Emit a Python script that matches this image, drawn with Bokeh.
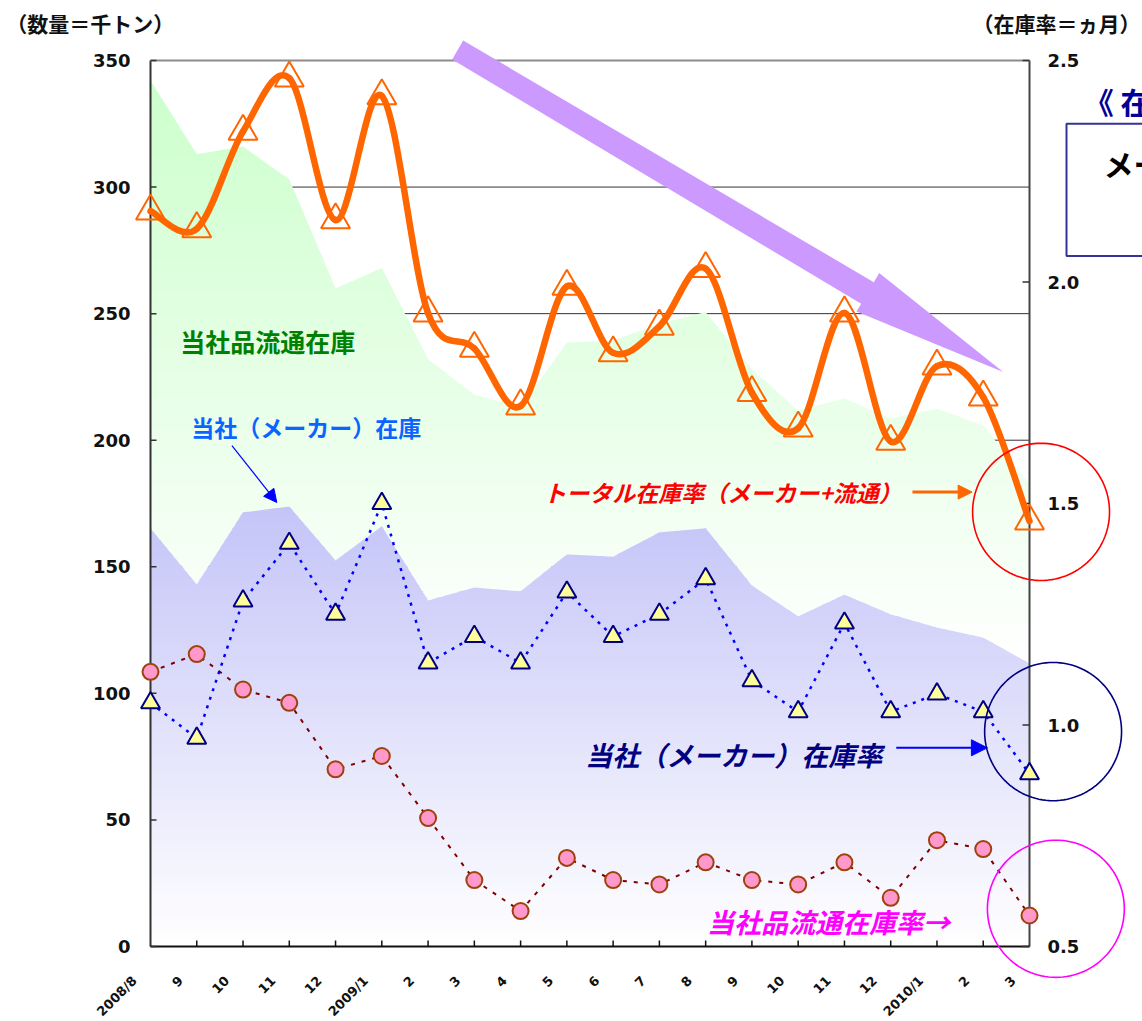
import numpy as np
from bokeh.plotting import figure
from bokeh.models import (Range1d, ColumnDataSource, LabelSet, Label, PolyAnnotation,
                          Arrow, NormalHead)
from bokeh.core.properties import value
from bokeh.embed import file_html
from bokeh.resources import INLINE

# ---- data -----------------------------------------------------------------
months = ["2008/8", "9", "10", "11", "12", "2009/1", "2", "3", "4", "5", "6",
          "7", "8", "9", "10", "11", "12", "2010/1", "2", "3"]

# inventory volume (thousand tons)
maker_stock = [165.2, 143.0, 171.5, 173.8, 152.5, 166.0, 136.7, 141.8, 140.3, 154.9,
               154.0, 163.6, 165.2, 142.6, 130.4, 139.0, 131.2, 126.0, 122.0, 111.8]
dist_stock = [176.8, 170.0, 144.5, 129.2, 107.5, 102.0, 95.3, 76.2, 72.7, 83.7,
              85.3, 82.4, 85.4, 85.4, 81.3, 77.5, 77.4, 86.5, 83.8, 71.0]

# inventory ratio (months)
total_rate = [2.16, 2.12, 2.34, 2.46, 2.14, 2.42, 1.93, 1.85, 1.72, 1.99,
              1.84, 1.90, 2.03, 1.75, 1.67, 1.93, 1.64, 1.81, 1.74, 1.46]
maker_rate = [1.05, 0.97, 1.28, 1.41, 1.25, 1.50, 1.14, 1.20, 1.14, 1.30,
              1.20, 1.25, 1.33, 1.10, 1.03, 1.23, 1.03, 1.07, 1.03, 0.89]
dist_rate = [1.12, 1.16, 1.08, 1.05, 0.90, 0.93, 0.79, 0.65, 0.58, 0.70,
             0.65, 0.64, 0.69, 0.65, 0.64, 0.69, 0.61, 0.74, 0.72, 0.57]

qty_ticks = [0, 50, 100, 150, 200, 250, 300, 350]
rate_ticks = [0.5, 1.0, 1.5, 2.0, 2.5]

JP = "Noto Sans CJK JP"
NUM = "DejaVu Sans"

idx = np.arange(len(months))
last = len(months) - 1

# ---- page geometry: the drawing area fills the whole page and the
# plotting box (first month .. last month, 0 .. 350) sits inside it
W, H = 1142, 1021
BOX_L, BOX_R, BOX_T, BOX_B = 150, 1029, 60, 946
QMAX = 350
RATE_LO, RATE_HI = 0.5, 2.5
sx = (BOX_R - BOX_L) / last
sy = (BOX_B - BOX_T) / QMAX
x_rng = Range1d(-BOX_L / sx, (W - BOX_L) / sx)
y_lo, y_hi = -(H - BOX_B) / sy, BOX_B / sy
y_rng = Range1d(y_lo, y_hi)
k = (RATE_HI - RATE_LO) / QMAX
rate_rng = Range1d(RATE_LO + y_lo * k, RATE_LO + y_hi * k)


def q_of_rate(r):
    return (r - RATE_LO) / k


p = figure(width=W, height=H, x_range=x_rng, y_range=y_rng,
           x_axis_type=None, y_axis_type=None,
           output_backend="svg", toolbar_location=None, min_border=0)
p.extra_y_ranges = {"rate": rate_rng}
p.outline_line_color = None
p.background_fill_color = "white"
p.border_fill_color = "white"
p.xgrid.visible = False
p.ygrid.visible = False

# ---- horizontal grid (sits beneath the areas) -------------------------------
grid_vals = qty_ticks[1:-1]
p.segment(x0=[0] * len(grid_vals), y0=grid_vals, x1=[last] * len(grid_vals),
          y1=grid_vals, line_color="#333333", line_width=1)

# ---- stacked areas with a vertical white fade ----------------------------
xf = np.linspace(0, last, last * 24 + 1)
maker_f = np.interp(xf, idx, maker_stock)
total_f = np.interp(xf, idx, np.add(maker_stock, dist_stock))


def fade(top_rgb, t):
    c = [int(round(255 + (ct - 255) * t)) for ct in top_rgb]
    return "#%02x%02x%02x" % tuple(c)


def banded_area(lower, upper, lo, hi, top_rgb, step=2.5):
    edges = np.arange(lo, hi + step, step)
    for b0, b1 in zip(edges[:-1], edges[1:]):
        y1 = np.clip(lower, b0, b1 + 0.4)
        y2 = np.clip(upper, b0, b1 + 0.4)
        if np.all(y2 - y1 <= 0):
            continue
        t = min(1.0, max(0.0, ((b0 + b1) / 2 - lo) / (hi - lo)))
        p.varea(x=xf, y1=y1, y2=y2, fill_color=fade(top_rgb, t))


banded_area(maker_f, total_f, min(maker_stock), float(total_f.max()), (204, 255, 204))
banded_area(np.zeros_like(xf), maker_f, 0.0, max(maker_stock), (196, 196, 248))

# ---- box lines and tick marks ---------------------------------------------
p.segment(x0=[0, last, 0], y0=[0, 0, 0], x1=[0, last, last], y1=[QMAX, QMAX, 0],
          line_color=["#333333", "#444444", "#111111"], line_width=2)
p.segment(x0=[0], y0=[QMAX], x1=[last], y1=[QMAX], line_color="#8c8c8c", line_width=2)
p.ray(x=[0] * len(qty_ticks), y=qty_ticks, length=6, length_units="screen",
      angle=0, line_color="#333333", line_width=1.5)
p.ray(x=[last] * len(rate_ticks), y=rate_ticks, length=7, length_units="screen",
      angle=np.pi, line_color="#333333", line_width=1.5, y_range_name="rate")
p.ray(x=list(idx[1:-1]), y=[0] * (last - 1), length=6, length_units="screen",
      angle=np.pi / 2, line_color="#111111", line_width=1.5)

# ---- distribution inventory ratio ----------------------------------------
p.line(idx, dist_rate, line_color="#800000", line_width=2, line_dash="4 7",
       y_range_name="rate")
p.scatter(idx, dist_rate, marker="circle", size=16, fill_color="#ff99cc",
          line_color="#a0400c", line_width=2, y_range_name="rate")

# ---- maker inventory ratio -----------------------------------------------
p.line(idx, maker_rate, line_color="#0000ff", line_width=2.5, line_dash="3 6",
       y_range_name="rate")
p.scatter(idx, maker_rate, marker="triangle", size=19, fill_color="#ffff99",
          line_color="#000080", line_width=2, y_range_name="rate")

# ---- downward trend arrow (under the total-ratio curve) ---------------------
p.patch(x=[6.759, 15.635, 15.751, 18.432, 15.261, 15.362, 6.521],
        y=[357.9, 262.4, 266.1, 226.9, 250.8, 253.9, 350.4],
        fill_color="#cc99ff", line_color=None)

# ---- total inventory ratio: smoothed curve --------------------------------
px_ = list(idx.astype(float))
py_ = list(total_rate)
n = len(px_)
bz = dict(x0=[], y0=[], x1=[], y1=[], cx0=[], cy0=[], cx1=[], cy1=[])
for i in range(n - 1):
    a = max(i - 1, 0)
    d = min(i + 2, n - 1)
    bz["x0"].append(px_[i]); bz["y0"].append(py_[i])
    bz["x1"].append(px_[i + 1]); bz["y1"].append(py_[i + 1])
    bz["cx0"].append(px_[i] + (px_[i + 1] - px_[a]) / 6)
    bz["cy0"].append(py_[i] + (py_[i + 1] - py_[a]) / 6)
    bz["cx1"].append(px_[i + 1] - (px_[d] - px_[i]) / 6)
    bz["cy1"].append(py_[i + 1] - (py_[d] - py_[i]) / 6)
p.bezier(source=ColumnDataSource(bz), x0="x0", y0="y0", x1="x1", y1="y1",
         cx0="cx0", cy0="cy0", cx1="cx1", cy1="cy1",
         line_color="#ff6600", line_width=6.5, line_cap="round", y_range_name="rate")
p.scatter(idx, total_rate, marker="triangle", size=29, fill_color=None,
          line_color="#ff6600", line_width=2, y_range_name="rate")

# ---- tick labels -----------------------------------------------------------
left_src = ColumnDataSource(dict(x=[0] * len(qty_ticks), y=qty_ticks,
                                 t=[str(v) for v in qty_ticks]))
p.add_layout(LabelSet(x="x", y="y", text="t", source=left_src, x_offset=-20,
                      text_align="right", text_baseline="middle",
                      text_font=value(NUM), text_font_style="bold",
                      text_font_size="18px", text_color="#111111"))
right_src = ColumnDataSource(dict(x=[last] * len(rate_ticks),
                                  y=[q_of_rate(v) for v in rate_ticks],
                                  t=["%.1f" % v for v in rate_ticks]))
p.add_layout(LabelSet(x="x", y="y", text="t", source=right_src, x_offset=18,
                      text_align="left", text_baseline="middle",
                      text_font=value(NUM), text_font_style="bold",
                      text_font_size="18px", text_color="#111111"))
bottom_src = ColumnDataSource(dict(x=list(idx), y=[0] * len(months), t=months))
p.add_layout(LabelSet(x="x", y="y", text="t", source=bottom_src,
                      x_offset=-16, y_offset=-32, angle=np.pi / 4,
                      text_align="right", text_baseline="middle",
                      text_font=value(NUM), text_font_style="bold",
                      text_font_size="13px", text_color="#111111"))

# ---- axis captions ----------------------------------------------------------
p.add_layout(Label(x=-3.12, y=365, text="（数量＝千トン）", text_align="left",
                   text_baseline="middle", text_font=JP, text_font_style="bold",
                   text_font_size="21px", text_color="#111111"))
p.add_layout(Label(x=21.40, y=365, text="（在庫率＝ヵ月）", text_align="right",
                   text_baseline="middle", text_font=JP, text_font_style="bold",
                   text_font_size="21px", text_color="#111111"))


# ---- series captions and pointers -----------------------------------------
def caption(x, y, text, color, size, style):
    p.add_layout(Label(x=x, y=y, text=text, text_align="left", text_baseline="middle",
                       text_font=JP, text_font_style=style, text_font_size=size,
                       text_color=color))


caption(0.645, 239.0, "当社品流通在庫", "#008000", "25px", "bold")
caption(0.88, 205.4, "当社（メーカー）在庫", "#0a64ff", "23px", "bold")
caption(8.49, 179.4, "トータル在庫率（メーカー+流通）", "#ff0000", "23px", "bold italic")
caption(9.40, 75.8, "当社（メーカー）在庫率", "#000080", "27px", "bold italic")
caption(12.03, 9.9, "当社品流通在庫率→", "#ff00ff", "27px", "bold italic")

p.add_layout(Arrow(end=NormalHead(size=13, fill_color="#0000ff", line_color="#0000ff"),
                   x_start=1.76, y_start=197.9, x_end=2.73, y_end=175.4,
                   line_color="#0000ff", line_width=1.2))
p.add_layout(Arrow(end=NormalHead(size=14, fill_color="#ff6600", line_color="#ff6600"),
                   x_start=16.47, y_start=179.5, x_end=17.76, y_end=179.5,
                   line_color="#ff6600", line_width=3))
p.add_layout(Arrow(end=NormalHead(size=16, fill_color="#0000ff", line_color="#0000ff"),
                   x_start=16.12, y_start=78.5, x_end=18.09, y_end=78.5,
                   line_color="#0000ff", line_width=2))

# ---- highlight rings around the latest month -------------------------------
theta = np.linspace(0, 2 * np.pi, 121)
for cx, cy, rx, ry, col in [(19.25, 171.7, 1.48, 27.1, "#ff0000"),
                            (19.51, 84.9, 1.48, 27.3, "#000080"),
                            (19.57, 14.9, 1.48, 27.1, "#ff00ff")]:
    p.add_layout(PolyAnnotation(xs=list(cx + rx * np.cos(theta)),
                                ys=list(cy + ry * np.sin(theta)),
                                fill_alpha=0, line_color=col, line_alpha=1.0,
                                line_width=1.6))

# ---- side panel heading (continues past the page edge) ----------------------
p.add_layout(Label(x=20.17, y=334.0, text="《 在庫", text_align="left",
                   text_baseline="middle", text_font=JP, text_font_style="bold",
                   text_font_size="30px", text_color="#000099"))
p.add_layout(PolyAnnotation(xs=[19.80, 23.0, 23.0, 19.80], ys=[325.0, 325.0, 272.8, 272.8],
                            fill_color="white", fill_alpha=1.0,
                            line_color="#333399", line_alpha=1.0, line_width=2))
p.add_layout(Label(x=20.60, y=309.6, text="メーカー", text_align="left",
                   text_baseline="middle", text_font=JP, text_font_style="bold",
                   text_font_size="30px", text_color="#000000"))

open("out.html", "w").write(file_html(p, INLINE))
